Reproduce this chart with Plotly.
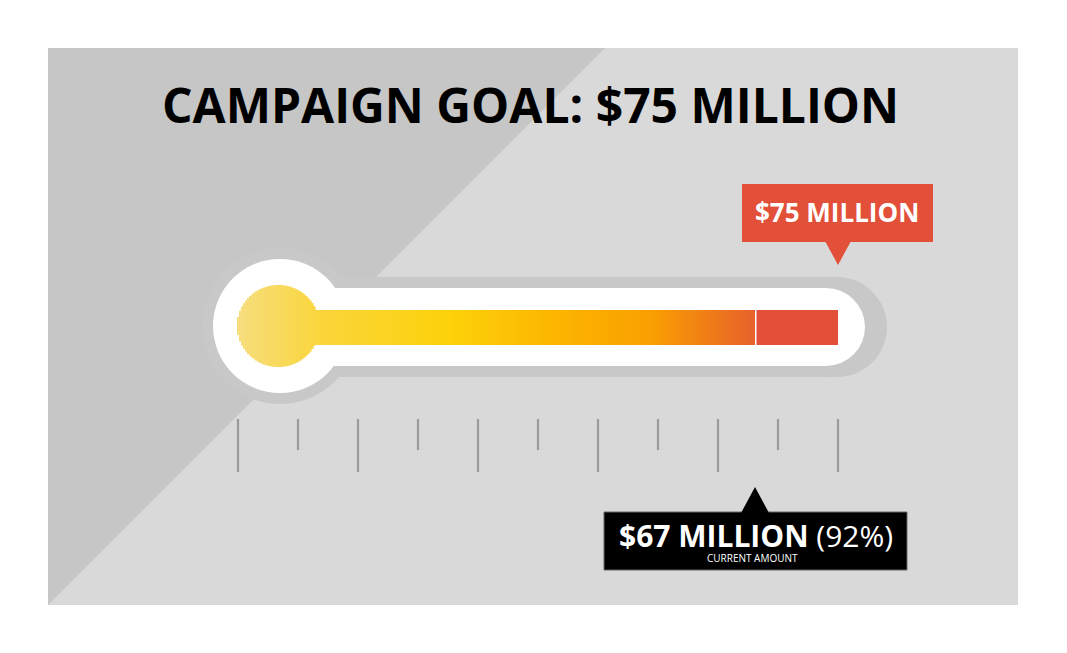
import plotly.graph_objects as go
import numpy as np

# ---- data ----
goal_value = 75          # $ million
current_value = 67       # $ million
current_pct = 92         # %
tick_count = 11
title_text = "CAMPAIGN GOAL: $75 MILLION"
goal_label = "$75 MILLION"
current_label = "$67 MILLION"
current_sub = "CURRENT AMOUNT"

W, H = 1067, 653
OFF = 8  # page body margin compensation
fig = go.Figure()
shapes = []

def rect(x0, y0, x1, y1, color, lw=0, lc=None):
    shapes.append(dict(type="rect", x0=x0, y0=y0, x1=x1, y1=y1, fillcolor=color,
                       line=dict(width=lw, color=lc or color), layer="above"))

def circle(cx, cy, r, color):
    shapes.append(dict(type="circle", x0=cx - r, y0=cy - r, x1=cx + r, y1=cy + r,
                       fillcolor=color, line=dict(width=0), layer="above"))

def path(d, color):
    shapes.append(dict(type="path", path=d, fillcolor=color, line=dict(width=0), layer="above"))

# background panel
rect(48, 48, 1018, 605, "#D9D9D9")
path("M48,48 L605,48 L48,605 Z", "#C6C6C6")

# thermometer housing
BX, BY = 280, 326
TUBE_END = 838
circle(BX, BY, 78, "#C8C8C8")
rect(BX, 277, 837, 377, "#C8C8C8")
circle(837, 327, 50, "#C8C8C8")
circle(BX, BY, 67, "#FFFFFF")
rect(BX, 288, 826, 366, "#FFFFFF")
circle(826, 327, 39, "#FFFFFF")

# value scale (positions along tube)
X0 = 60
def xv(v):
    return X0 + (TUBE_END - X0) * v / goal_value

cur_x = xv(current_value)

stops = [(236, (247, 222, 128)), (320, (250, 214, 60)), (450, (253, 210, 10)),
         (560, (252, 180, 0)), (650, (250, 160, 0)), (cur_x, (232, 98, 44))]
def col(x):
    xs = [s[0] for s in stops]
    c = [int(np.interp(x, xs, [s[1][k] for s in stops])) for k in range(3)]
    return "rgb(%d,%d,%d)" % tuple(c)

# bulb + bar fill
r = 41
step = 2
x = BX - 2 - r
while x < cur_x:
    xm = x + step / 2
    dx = xm - (BX - 2)
    if abs(dx) < r:
        h = np.sqrt(r * r - dx * dx)
        y0, y1 = BY - h, BY + h
        if xm > BX - 2:
            y0, y1 = min(y0, 310), max(y1, 345)
    else:
        y0, y1 = 310, 345
    rect(x, y0, min(x + step + 0.6, cur_x), y1, col(xm))
    x += step
# goal remainder
rect(cur_x + 1.5, 310, TUBE_END, 345, "#E2503A")

# ticks
for i in range(tick_count):
    tx = 238 + i * (TUBE_END - 238) / (tick_count - 1)
    y1 = 472 if i % 2 == 0 else 450
    shapes.append(dict(type="line", x0=tx, x1=tx, y0=419, y1=y1,
                       line=dict(color="#9A9A9A", width=2.2), layer="above"))

# goal callout
rect(742, 184, 933, 242, "#E2503A")
path(f"M{TUBE_END-13},241 L{TUBE_END+13},241 L{TUBE_END},265 Z", "#E2503A")
# current callout
rect(604, 512, 907, 570, "#000000", 1, "#666")
path(f"M{cur_x-14},513 L{cur_x+14},513 L{cur_x},487 Z", "#000000")

ann = []
ann.append(dict(x=530, y=104, text="<b>" + title_text + "</b>", showarrow=False,
                font=dict(family="Open Sans", size=48, color="#000")))
ann.append(dict(x=837, y=212, text="<b>" + goal_label + "</b>", showarrow=False,
                font=dict(family="Open Sans", size=26, color="white")))
ann.append(dict(x=756, y=535, text=f"<b>{current_label}</b> ({current_pct}%)", showarrow=False,
                font=dict(family="Open Sans", size=30, color="white")))
ann.append(dict(x=752, y=558, text=current_sub, showarrow=False,
                font=dict(family="Open Sans", size=10, color="white")))

fig.add_trace(go.Scatter(x=[OFF, W], y=[OFF, H], mode="markers", marker=dict(opacity=0),
                         hoverinfo="skip", showlegend=False))
fig.update_layout(width=W, height=H, margin=dict(l=0, r=0, t=0, b=0),
                  paper_bgcolor="white", plot_bgcolor="white",
                  xaxis=dict(range=[OFF, W + OFF], visible=False, fixedrange=True),
                  yaxis=dict(range=[H + OFF, OFF], visible=False, fixedrange=True),
                  shapes=shapes, annotations=ann, showlegend=False)
fig.write_html("out.html")
